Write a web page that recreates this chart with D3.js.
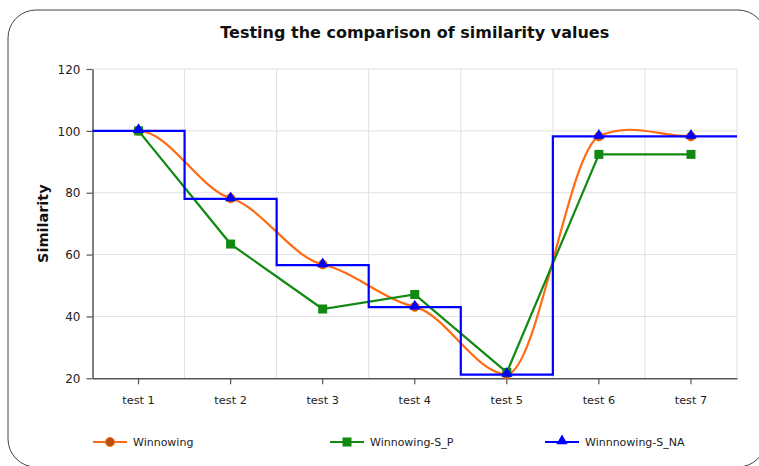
<!DOCTYPE html>
<html><head><meta charset="utf-8">
<script src="https://cdn.jsdelivr.net/npm/d3@7"></script>
<style>body{margin:0;background:#fff;}svg{display:block;font-family:"DejaVu Sans",Verdana,sans-serif;}</style>
</head><body>
<svg id="c" width="759" height="466"></svg>
<script>
const categories = ["test 1","test 2","test 3","test 4","test 5","test 6","test 7"];
const winnowing = [100, 78.2, 56.8, 43.1, 21.3, 98.2, 98.2];
const winnowingSP = [100, 63.4, 42.4, 47.1, 21.9, 92.4, 92.4];
const winnowingSNA = [100, 78, 56.6, 43, 21.2, 98.2, 98.2];
const yTicks = [20, 40, 60, 80, 100, 120];
const seriesNames = ["Winnowing", "Winnowing-S_P", "Winnnowing-S_NA"];

const svg = d3.select("#c");
svg.append("rect").attr("x",8).attr("y",10).attr("width",758).attr("height",457)
  .attr("rx",28).attr("fill","#fff").attr("stroke","#444").attr("stroke-width",1);

const L=92.5, R=737, T=69, B=378.3;
const x = d3.scaleBand().domain(categories).range([L,R]).padding(0);
const y = d3.scaleLinear().domain([20,120]).range([B,T]);
const cx = c => x(c) + x.bandwidth()/2;

// grid
const g = svg.append("g");
g.selectAll(".hg").data(yTicks.filter(v=>v>20)).join("line")
  .attr("x1",L).attr("x2",R).attr("y1",d=>y(d)).attr("y2",d=>y(d))
  .attr("stroke","#e0e0e0").attr("stroke-width",1);
g.selectAll(".vg").data(categories).join("line")
  .attr("x1",d=>x(d)+x.bandwidth()).attr("x2",d=>x(d)+x.bandwidth())
  .attr("y1",T).attr("y2",B).attr("stroke","#e0e0e0").attr("stroke-width",1);

// axes
const ya = svg.append("g").attr("transform",`translate(${L},0)`)
  .call(d3.axisLeft(y).tickValues(yTicks).tickSize(6).tickPadding(6).tickSizeOuter(0));
const xa = svg.append("g").attr("transform",`translate(0,${B})`)
  .call(d3.axisBottom(x).tickSize(6).tickPadding(12).tickSizeOuter(0));
[ya,xa].forEach(a=>{
  a.select(".domain").attr("stroke","#555").attr("stroke-width",1.5);
  a.selectAll(".tick line").attr("stroke","#555").attr("stroke-width",1.2);
  a.selectAll("text").attr("fill","#222").style("font-family","DejaVu Sans");
});
ya.selectAll(".tick text").attr("dy","0.35em").style("font-size","12px");
xa.selectAll(".tick text").style("font-size","11.3px");

// title & y label
svg.append("text").attr("x",(L+R)/2).attr("y",38).attr("text-anchor","middle")
  .style("font-weight","bold").style("font-size","16px").attr("fill","#111")
  .text("Testing the comparison of similarity values");
svg.append("text").attr("transform",`translate(48,${(T+B)/2}) rotate(-90)`)
  .attr("text-anchor","middle").style("font-weight","bold").style("font-size","14.5px").attr("fill","#111")
  .text("Similarity");

const orange="#ff6a13", orangeFill="#b8520a", green="#118a11", blue="#0000ff";

// Winnowing spline: cubic Bezier with damped tangents, flat at extrema and ends
function splinePath(pts, c){
  const n = pts.length, m = new Array(n).fill(0);
  for(let i=1;i<n-1;i++){
    const d0 = pts[i][1]-pts[i-1][1], d1 = pts[i+1][1]-pts[i][1];
    if(d0*d1 < 0) m[i]=0;
    else m[i] = c*(pts[i+1][1]-pts[i-1][1])/(pts[i+1][0]-pts[i-1][0]);
  }
  const p = d3.path();
  p.moveTo(pts[0][0],pts[0][1]);
  for(let i=0;i<n-1;i++){
    const h=(pts[i+1][0]-pts[i][0])/3;
    p.bezierCurveTo(pts[i][0]+h, pts[i][1]+m[i]*h, pts[i+1][0]-h, pts[i+1][1]-m[i+1]*h, pts[i+1][0], pts[i+1][1]);
  }
  return p.toString();
}
const pts1 = categories.map((c,i)=>[cx(c), y(winnowing[i])]);
svg.append("path").attr("d", splinePath(pts1, 0.38))
  .attr("fill","none").attr("stroke",orange).attr("stroke-width",2.2);
svg.selectAll(".m1").data(pts1).join("circle").attr("cx",d=>d[0]).attr("cy",d=>d[1]).attr("r",4.5)
  .attr("fill",orangeFill).attr("stroke",orange).attr("stroke-width",1);

// S_P
const pts2 = categories.map((c,i)=>[cx(c), y(winnowingSP[i])]);
svg.append("path").attr("d", d3.line()(pts2)).attr("fill","none").attr("stroke",green).attr("stroke-width",2.2);
svg.selectAll(".m2").data(pts2).join("rect").attr("x",d=>d[0]-4.5).attr("y",d=>d[1]-4.5)
  .attr("width",9).attr("height",9).attr("fill",green);

// S_NA step
const stepPts = [];
categories.forEach((c,i)=>{ stepPts.push([x(c), y(winnowingSNA[i])]); stepPts.push([x(c)+x.bandwidth(), y(winnowingSNA[i])]); });
svg.append("path").attr("d", d3.line()(stepPts)).attr("fill","none").attr("stroke",blue).attr("stroke-width",2.2);
const tri = d3.symbol().type(d3.symbolTriangle).size(55);
const pts3 = categories.map((c,i)=>[cx(c), y(winnowingSNA[i])]);
svg.selectAll(".m3").data(pts3).join("path").attr("d",tri)
  .attr("transform",d=>`translate(${d[0]},${d[1]-1})`).attr("fill",blue);

// legend
const lg = svg.append("g");
const lx = [93, 330, 545], ly = 442;
const colors=[orange,green,blue];
seriesNames.forEach((n,i)=>{
  lg.append("line").attr("x1",lx[i]).attr("x2",lx[i]+34).attr("y1",ly).attr("y2",ly).attr("stroke",colors[i]).attr("stroke-width",2.2);
  const m = lx[i]+17;
  if(i===0) lg.append("circle").attr("cx",m).attr("cy",ly).attr("r",4.5).attr("fill",orangeFill).attr("stroke",orange);
  else if(i===1) lg.append("rect").attr("x",m-4.5).attr("y",ly-4.5).attr("width",9).attr("height",9).attr("fill",green);
  else lg.append("path").attr("d",tri).attr("transform",`translate(${m},${ly-1})`).attr("fill",blue);
  lg.append("text").attr("x",lx[i]+40).attr("y",ly).attr("dy","0.35em").style("font-size","11px").attr("fill","#222").text(n);
});
</script>
</body></html>
